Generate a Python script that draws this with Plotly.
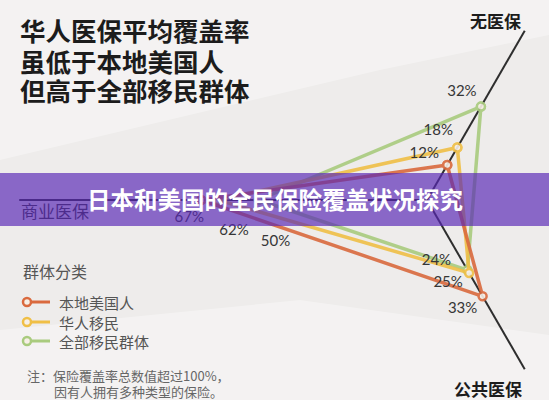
import numpy as np
import plotly.graph_objects as go

# ---------------- data ----------------
axis_names = ["无医保", "商业医保", "公共医保"]
series_names = ["本地美国人", "华人移民", "全部移民群体"]
no_insurance = [12, 18, 32]      # 无医保 %
commercial = [67, 62, 50]        # 商业医保 %
public = [33, 25, 24]            # 公共医保 %
series_colors = ["#da6a3e", "#f0bf46", "#a9cb7e"]

headline = ["华人医保平均覆盖率", "虽低于本地美国人", "但高于全部移民群体"]
banner_title = "日本和美国的全民保险覆盖状况探究"
legend_title = "群体分类"
note_lines = ["注：保险覆盖率总数值超过100%，", "因有人拥有多种类型的保险。"]

# ---------------- layout constants ----------------
W, H = 549, 400
K = 3.37                  # px per percent
CX, CY = 427, 200         # chart centre in pixels
axis_angles = [60, 180, 300]
axis_lengths = [58, 121, 58]

FONT = "Noto Sans CJK SC"
NUMFONT = "Lato"

def polar_xy(r, ang):
    a = np.deg2rad(ang)
    return r * np.cos(a), r * np.sin(a)

fig = go.Figure()

# axis lines
for ang, ln in zip(axis_angles, axis_lengths):
    x1, y1 = polar_xy(ln, ang)
    fig.add_trace(go.Scatter(x=[0, x1], y=[0, y1], mode="lines",
                             line=dict(color="#2e2e2e", width=2),
                             hoverinfo="skip", showlegend=False))

# label offsets (px) per series, per axis
label_off = [
    [(-23, -11), (-12, 18), (-20, 13)],
    [(-19, -16), (16, 31), (-21, 10)],
    [(-19, -14), (17, 42), (-31, -9)],
]

annotations = []
lab_x, lab_y, lab_t = [], [], []
order = [2, 1, 0]
for i in order:
    vals = [no_insurance[i], commercial[i], public[i]]
    xs, ys = [], []
    for v, ang in zip(vals, axis_angles):
        x, y = polar_xy(v, ang)
        xs.append(x); ys.append(y)
    fig.add_trace(go.Scatter(
        x=xs + [xs[0]], y=ys + [ys[0]], mode="lines+markers",
        name=series_names[i],
        line=dict(color=series_colors[i], width=3.5),
        marker=dict(size=8, color="#f7efe6", line=dict(color=series_colors[i], width=2.5)),
        opacity=0.9, showlegend=False, hoverinfo="skip"))
    for j, (v, ang) in enumerate(zip(vals, axis_angles)):
        x, y = polar_xy(v, ang)
        dx, dy = label_off[i][j]
        lab_x.append(x + dx / K)
        lab_y.append(y - dy / K)
        lab_t.append(f"{v}%")

# value labels as a text trace (drawn beneath the banner)
fig.add_trace(go.Scatter(x=lab_x, y=lab_y, text=lab_t, mode="text",
                         textposition="middle center",
                         textfont=dict(family=NUMFONT, size=15, color="#363636"),
                         hoverinfo="skip", showlegend=False))
# left axis name (also beneath the banner)
fig.add_trace(go.Scatter(x=[(21 - CX) / K], y=[(CY - 214) / K], text=[axis_names[1]],
                         mode="text", textposition="middle right",
                         textfont=dict(family=FONT, size=17, color="#333333"),
                         hoverinfo="skip", showlegend=False))

def px(x):
    return x / W

def py(y):
    return 1 - y / H

# headline
for t, yy in zip(headline, [29, 60, 90]):
    annotations.append(dict(x=px(18), y=py(yy), xref="paper", yref="paper",
                            xanchor="left", yanchor="middle", showarrow=False,
                            text=f"<b>{t}</b>", height=29,
                            font=dict(family=FONT, size=25.5, color="#1c1c1c")))

# axis names
annotations.append(dict(x=px(523), y=py(20), xref="paper", yref="paper", xanchor="right",
                        yanchor="middle", showarrow=False, text=f"<b>{axis_names[0]}</b>",
                        font=dict(family=FONT, size=17, color="#1c1c1c")))
annotations.append(dict(x=px(524), y=py(388), xref="paper", yref="paper", xanchor="right",
                        yanchor="middle", showarrow=False, text=f"<b>{axis_names[2]}</b>",
                        height=20, font=dict(family=FONT, size=17, color="#1c1c1c")))

# legend
annotations.append(dict(x=px(21), y=py(271), xref="paper", yref="paper", xanchor="left",
                        yanchor="middle", showarrow=False, text=legend_title,
                        font=dict(family=FONT, size=16, color="#555555")))
shapes = []
for i, yy in enumerate([302, 322, 341]):
    shapes.append(dict(type="line", xref="paper", yref="paper", x0=px(27), x1=px(50),
                       y0=py(yy), y1=py(yy), line=dict(color=series_colors[i], width=3)))
    shapes.append(dict(type="circle", xref="paper", yref="paper", x0=px(23), x1=px(31),
                       y0=py(yy - 4), y1=py(yy + 4), fillcolor="#f7efe6",
                       line=dict(color=series_colors[i], width=2.5)))
    annotations.append(dict(x=px(57), y=py(yy), xref="paper", yref="paper", xanchor="left",
                            yanchor="middle", showarrow=False, text=series_names[i],
                            font=dict(family=FONT, size=15, color="#555555")))

# note
annotations.append(dict(x=px(25), y=py(375), xref="paper", yref="paper", xanchor="left",
                        yanchor="middle", showarrow=False, text=note_lines[0],
                        font=dict(family=FONT, size=13, color="#666666")))
annotations.append(dict(x=px(52), y=py(391), xref="paper", yref="paper", xanchor="left",
                        yanchor="middle", showarrow=False, text=note_lines[1],
                        height=15, font=dict(family=FONT, size=13, color="#666666")))

# background subtle bands (below)
shapes.insert(0, dict(type="path", xref="paper", yref="paper", layer="below",
                      path=f"M 0 {py(0)} L {px(549)} {py(0)} L {px(549)} {py(35)} L {px(380)} {py(70)} L 0 {py(160)} Z",
                      fillcolor="rgba(255,255,255,0.35)", line=dict(width=0)))
shapes.insert(0, dict(type="path", xref="paper", yref="paper", layer="below",
                      path=f"M 0 {py(400)} L {px(549)} {py(400)} L {px(549)} {py(335)} L {px(300)} {py(300)} L 0 {py(330)} Z",
                      fillcolor="rgba(255,255,255,0.35)", line=dict(width=0)))

# purple banner (semi-transparent, beneath title text)
shapes.append(dict(type="rect", xref="paper", yref="paper", layer="above",
                   x0=0, x1=1, y0=py(226), y1=py(173),
                   fillcolor="rgba(88,40,182,0.68)", line=dict(width=0)))
annotations.append(dict(x=px(275), y=py(199), xref="paper", yref="paper", xanchor="center",
                        yanchor="middle", showarrow=False, text=f"<b>{banner_title}</b>",
                        font=dict(family=FONT, size=23.5, color="#ffffff")))

fig.update_layout(
    width=W, height=H, margin=dict(l=0, r=0, t=0, b=0),
    paper_bgcolor="#eeeceb", plot_bgcolor="rgba(0,0,0,0)",
    xaxis=dict(range=[-CX / K, (W - CX) / K], visible=False, fixedrange=True),
    yaxis=dict(range=[-(H - CY) / K, CY / K], visible=False, fixedrange=True),
    showlegend=False, shapes=shapes, annotations=annotations,
)

fig.write_html("out.html",
               config={"displayModeBar": False},
               post_script="document.documentElement.style.margin='0';"
                           "document.body.style.margin='0';"
                           "document.body.style.overflow='hidden';")
